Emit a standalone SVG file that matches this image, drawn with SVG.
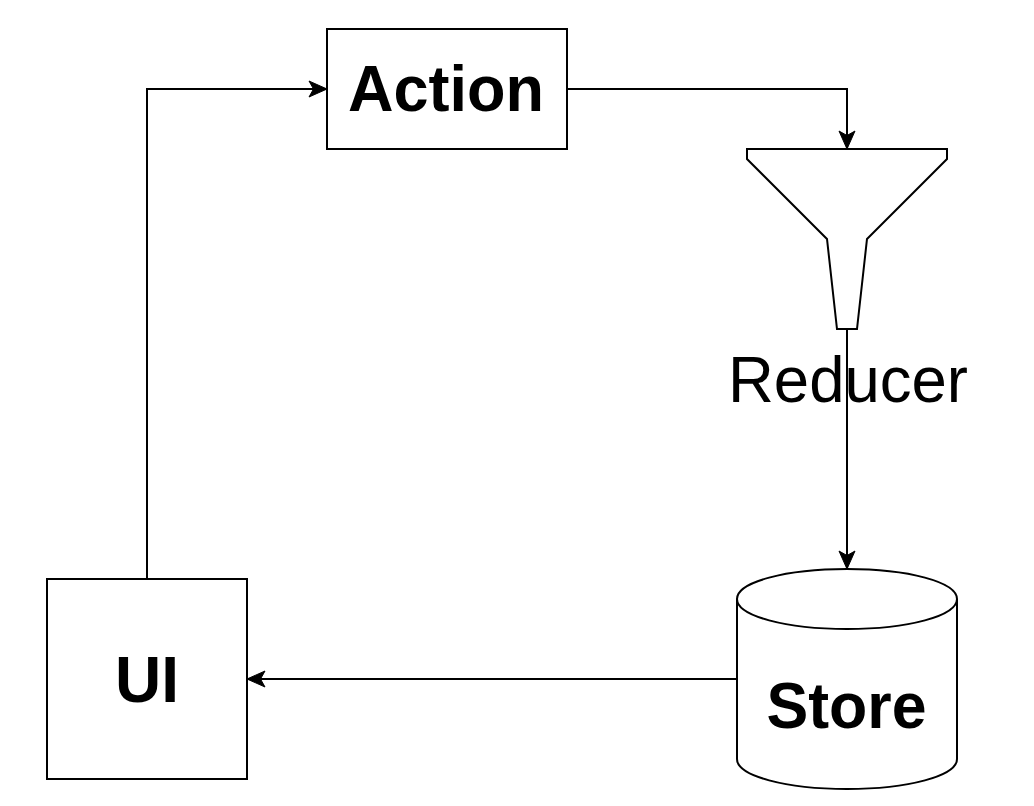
<svg xmlns="http://www.w3.org/2000/svg" width="1034" height="806" viewBox="0 0 1034 806">
<style>
.s{fill:#fff;stroke:#000;stroke-width:2}
.c{fill:none;stroke:#000;stroke-width:2}
text{font-family:"Liberation Sans",Arial,sans-serif;fill:#000;text-anchor:middle}
.b{font-weight:bold;font-size:64px}
</style>
<defs><marker id="a" markerUnits="userSpaceOnUse" markerWidth="22" markerHeight="20" refX="20" refY="9" orient="auto"><path d="M2 1L20 9L2 17L6.500 9Z" fill="#000" stroke="#000" stroke-width="1"/></marker></defs>
<rect width="1034" height="806" fill="#fff"/>
<g id="action"><rect class="s" x="327" y="29" width="240" height="120"/><text class="b" x="446" y="111" textLength="196" lengthAdjust="spacingAndGlyphs">Action</text></g>
<g id="reducer"><path class="s" d="M747 149H947V159L867 239L857 329H837L827 239L747 159Z"/><text x="848" y="402" font-size="64" textLength="240" lengthAdjust="spacingAndGlyphs">Reducer</text></g>
<g id="store"><path class="s" d="M737 599C737 582 786 569 847 569S957 582 957 599V759C957 776 908 789 847 789S737 776 737 759Z"/><path class="c" d="M737 599C737 616 786 629 847 629S957 616 957 599"/><text class="b" x="846.500" y="728" textLength="160" lengthAdjust="spacingAndGlyphs">Store</text></g>
<g id="ui"><rect class="s" x="47" y="579" width="200" height="200"/><text class="b" x="147" y="702">UI</text></g>
<g id="connectors">
<path class="c" d="M147 579V89H327" marker-end="url(#a)"/>
<path class="c" d="M567 89H847V149" marker-end="url(#a)"/>
<path class="c" d="M847 329V569" marker-end="url(#a)"/>
<path class="c" d="M737 679H247" marker-end="url(#a)"/>
</g>
</svg>
